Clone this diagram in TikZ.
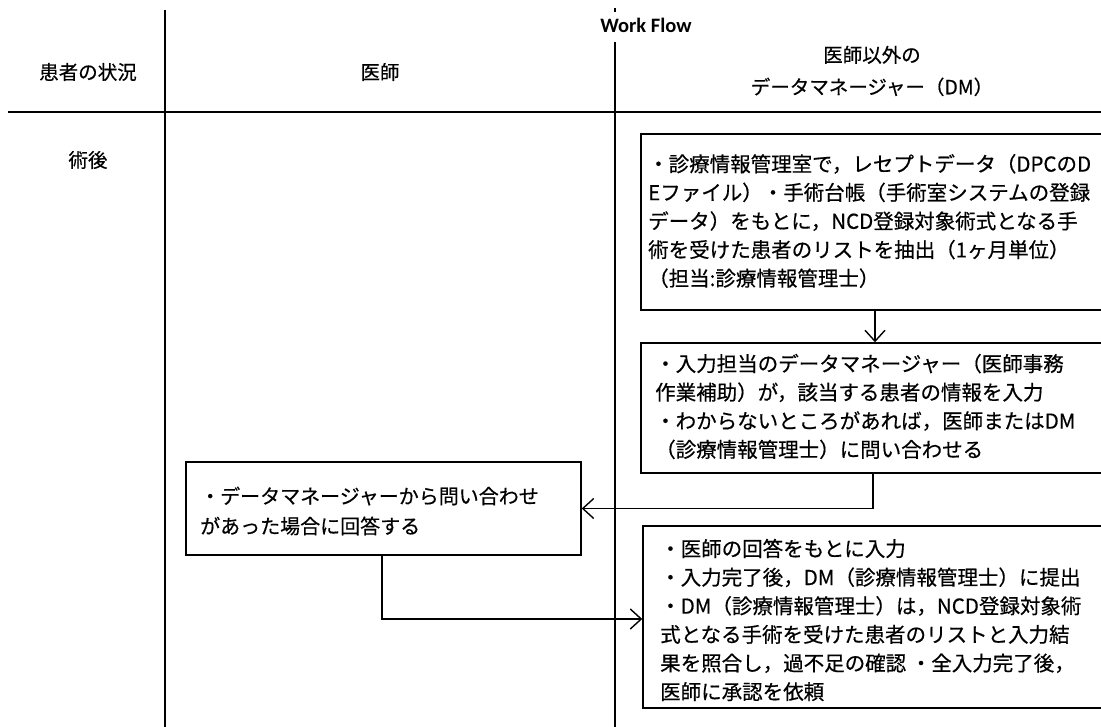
\documentclass[tikz,border=0pt]{standalone}
\usepackage{fontspec}
\setmainfont{Noto Sans CJK JP}[UprightFeatures={FakeBold=0.5}]
\newfontfamily\wffont{Carlito}
\usetikzlibrary{arrows.meta,fit}

\begin{document}
\begin{tikzpicture}[x=1pt,y=-1pt,
  frame/.style={draw, line width=1.4pt, inner sep=0pt},
  body/.style={anchor=west, align=left, inner sep=0pt, font=\fontsize{20.5}{28.6}\selectfont},
  head/.style={align=center, inner sep=0pt, font=\fontsize{19.5}{32}\selectfont},
  conn/.style={line width=1.4pt, -{Straight Barb[length=11pt,width=20pt,line width=1.4pt]}},
  rule/.style={line width=1.7pt}]
\useasboundingbox (0,0) rectangle (1101,727);

% lane rules
\draw[rule] (165,10) -- (165,727);
\draw[rule] (615,42) -- (615,727);
\draw[rule] (615,8) -- (615,12);
\draw[line width=2.8pt] (8,112) -- (1101,112);

% headers
\node[font=\wffont\bfseries\fontsize{20.5}{24}\selectfont, inner sep=0pt] (wf) at (646,25) {Work Flow};
\node[head] (h1) at (88,72) {患者の状況};
\node[head] (h2) at (380,72) {医師};
\node[head] (h3) at (872,71) {医師以外の\\データマネージャー（DM）};
\node[head] (post) at (88,160) {術後};

% boxes
\coordinate (b1a) at (641,134); \coordinate (b1b) at (1104,310);
\node[frame, fit=(b1a)(b1b)] (box1) {};
\coordinate (b2a) at (641,343); \coordinate (b2b) at (1104,473);
\node[frame, fit=(b2a)(b2b)] (box2) {};
\coordinate (d1a) at (186,462); \coordinate (d1b) at (581,555);
\node[frame, fit=(d1a)(d1b)] (doc) {};
\coordinate (b3a) at (643,526); \coordinate (b3b) at (1104,708);
\node[frame, fit=(b3a)(b3b)] (box3) {};

% texts
\node[body] (t1) at (648,221) {・診療情報管理室で，レセプトデータ（DPCのD\\Eファイル）・手術台帳（手術室システムの登録\\データ）をもとに，NCD登録対象術式となる手\\術を受けた患者のリストを抽出（1ヶ月単位）\\（担当:診療情報管理士）};
\node[body] (t2) at (655,406.5) {・入力担当のデータマネージャー（医師事務\\作業補助）が，該当する患者の情報を入力\\・わからないところがあれば，医師またはDM\\（診療情報管理士）に問い合わせる};
\node[body, font=\fontsize{20}{30}\selectfont] (td) at (200,511) {・データマネージャーから問い合わせ\\があった場合に回答する};
\node[body] (t3) at (660,620) {・医師の回答をもとに入力\\・入力完了後，DM（診療情報管理士）に提出\\・DM（診療情報管理士）は，NCD登録対象術\\式となる手術を受けた患者のリストと入力結\\果を照合し，過不足の確認 ・全入力完了後，\\医師に承認を依頼};

% connectors
\coordinate (ax) at (875,0);
\draw[conn] (box1.south -| ax) -- (box2.north -| ax);
\coordinate (bx) at (873,0);
\draw[conn] (box2.south -| bx) |- (doc.east);
\coordinate (cx) at (382,0);
\coordinate (cy) at (0,619);
\draw[conn] (doc.south -| cx) |- (box3.west |- cy);
\end{tikzpicture}
\end{document}
